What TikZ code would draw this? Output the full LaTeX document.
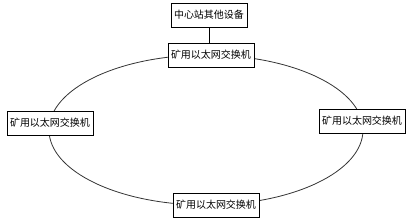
\documentclass[tikz,border=0pt]{standalone}
\usepackage{fontspec}
\newfontfamily\cjk{Noto Sans CJK SC}
\usetikzlibrary{positioning}
\tikzset{
	swbox/.style={draw, fill=white, line width=0.8pt, font=\fontsize{10}{12}\cjk,
		minimum height=24, inner xsep=3pt, inner ysep=0pt}
}
\begin{document}
\begin{tikzpicture}[x=1pt, y=-1pt]
      \useasboundingbox (0,0) rectangle (408,218);
      \draw[line width=0.8pt, black!80] (206,130) ellipse [x radius=157, y radius=75];
      \node[swbox] (center) at (209,15) {中心站其他设备};
      \node[swbox] (swtop) at (211,55) {矿用以太网交换机};
      \node[swbox] (swleft) at (50,123) {矿用以太网交换机};
      \node[swbox] (swright) at (362,121) {矿用以太网交换机};
      \node[swbox] (swbottom) at (216,205) {矿用以太网交换机};
      \draw[line width=0.8pt] (center) -- (center |- swtop.north);
    \end{tikzpicture}
\end{document}
